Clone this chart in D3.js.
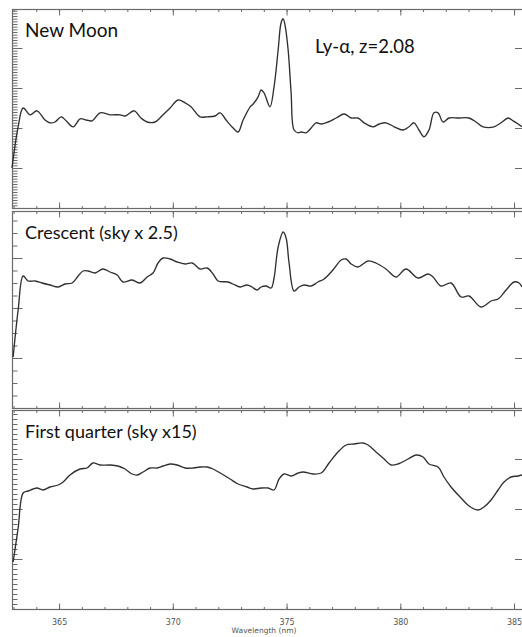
<!DOCTYPE html>
<html>
<head>
<meta charset="utf-8">
<script src="https://cdn.jsdelivr.net/npm/d3@7"></script>
<style>
  html, body { margin: 0; padding: 0; background: #fff; }
  svg { display: block; }
</style>
</head>
<body>
<script>
// ---------- data (wavelength nm, relative flux) ----------
const newMoonWl = [362.93,363.20,363.42,363.73,364.03,364.38,364.60,364.82,365.09,365.31,365.62,365.93,366.19,366.45,366.80,367.24,367.68,367.90,368.30,368.60,368.87,369.22,369.57,369.88,370.23,370.54,370.80,371.20,371.51,371.86,372.08,372.34,372.65,372.87,373.09,373.40,373.53,373.75,373.88,374.01,374.27,374.45,374.63,374.76,374.85,374.93,375.07,375.20,375.33,375.51,375.64,375.86,376.08,376.30,376.52,376.82,377.18,377.53,377.84,378.14,378.41,378.80,379.07,379.37,379.73,380.12,380.38,380.60,380.82,381.04,381.26,381.48,381.66,381.88,382.14,382.54,383.02,383.33,383.64,384.12,384.43,384.74,384.96,385.18,385.35];
const newMoonFlux = [1.0,2.03,2.5,2.33,2.43,2.2,2.13,2.15,2.28,2.18,2.03,2.23,2.2,2.18,2.38,2.33,2.33,2.3,2.43,2.25,2.15,2.15,2.33,2.5,2.7,2.63,2.53,2.28,2.28,2.3,2.38,2.2,2.0,1.9,2.2,2.53,2.6,2.78,2.95,2.88,2.53,3.03,3.95,4.63,4.73,4.58,3.95,2.88,1.95,1.88,1.9,1.88,2.0,2.13,2.1,2.15,2.25,2.35,2.25,2.25,2.13,2.03,2.1,2.13,2.03,1.95,2.03,2.13,1.95,1.78,1.95,2.38,2.38,2.15,2.25,2.25,2.25,2.15,2.03,2.03,2.13,2.25,2.18,2.1,2.03];

const crescentWl = [362.98,363.20,363.42,363.64,363.95,364.25,364.60,364.96,365.26,365.57,365.84,366.05,366.27,366.58,366.93,367.24,367.55,367.81,368.21,368.56,368.87,369.13,369.35,369.57,369.88,370.19,370.54,370.85,371.20,371.51,371.77,371.99,372.43,372.65,372.96,373.26,373.48,373.70,373.88,374.10,374.32,374.45,374.63,374.85,374.98,375.11,375.33,375.55,375.77,376.08,376.38,376.65,377.04,377.40,377.62,377.84,378.14,378.58,378.93,379.37,379.81,380.25,380.78,381.22,381.44,381.79,382.23,382.67,383.02,383.55,383.99,384.30,384.65,385.00,385.22,385.35];
const crescentFlux = [1.02,1.96,2.64,2.54,2.54,2.5,2.46,2.42,2.48,2.5,2.64,2.74,2.74,2.7,2.78,2.72,2.66,2.52,2.56,2.5,2.62,2.7,2.9,3.0,2.98,2.92,2.88,2.9,2.78,2.8,2.68,2.54,2.52,2.48,2.42,2.46,2.42,2.36,2.42,2.44,2.4,2.6,3.22,3.52,3.4,2.9,2.34,2.42,2.46,2.44,2.52,2.58,2.76,2.96,2.98,2.88,2.82,2.94,2.9,2.78,2.62,2.78,2.6,2.68,2.62,2.44,2.5,2.22,2.24,2.02,2.14,2.18,2.36,2.52,2.5,2.42];

const quarterWl = [362.98,363.20,363.42,363.64,363.86,364.03,364.30,364.60,364.96,365.18,365.48,365.92,366.23,366.49,366.80,367.24,367.59,367.90,368.21,368.43,368.69,369.00,369.31,369.57,369.88,370.19,370.54,370.89,371.20,371.51,371.77,372.16,372.52,372.87,373.26,373.53,373.88,374.19,374.45,374.67,374.89,375.20,375.51,375.73,376.16,376.52,376.87,377.26,377.62,377.97,378.36,378.58,378.93,379.29,379.59,379.90,380.34,380.69,381.00,381.26,381.66,381.92,382.23,382.67,383.02,383.42,383.68,383.99,384.30,384.56,384.87,385.18,385.35];
const quarterFlux = [0.94,1.62,2.32,2.36,2.4,2.42,2.38,2.44,2.48,2.54,2.68,2.8,2.82,2.92,2.88,2.88,2.86,2.8,2.7,2.68,2.74,2.82,2.82,2.86,2.9,2.88,2.82,2.82,2.84,2.84,2.8,2.7,2.6,2.5,2.44,2.4,2.42,2.42,2.38,2.6,2.7,2.66,2.72,2.74,2.7,2.72,2.92,3.14,3.28,3.3,3.32,3.28,3.14,3.0,2.88,2.9,3.0,3.08,3.04,2.9,2.84,2.64,2.44,2.22,2.06,1.98,2.04,2.18,2.38,2.54,2.64,2.66,2.68];

const panelTitles = ["New Moon", "Crescent (sky x 2.5)", "First quarter (sky x15)"];
const annotation = "Ly-\u03b1, z=2.08";
const xTickValues = [365, 370, 375, 380, 385];
const xLabel = "Wavelength (nm)";
const wlDomain = [362.93, 385.35];

// ---------- layout ----------
const W = 522, H = 637;
const svg = d3.select("body").append("svg").attr("width", W).attr("height", H);

const x = d3.scaleLinear().domain(wlDomain).range([12, 522]);

const panels = [
  { wl: newMoonWl, flux: newMoonFlux, top: 9, bottom: 208, ymax: 4.975, minorStep: 1/15, major: [1,2,3,4], fs: 19 },
  { wl: crescentWl, flux: crescentFlux, top: 211, bottom: 408, ymax: 3.94, minorStep: 0.25, major: [1,2,3], fs: 18 },
  { wl: quarterWl, flux: quarterFlux, top: 410, bottom: 609, ymax: 3.98, minorStep: 0.1, major: [1,2,3], fs: 18 }
];

const frameColor = "#6a6a6a";
const minorX = d3.range(363, 386, 1);

panels.forEach((p, i) => {
  const y = d3.scaleLinear().domain([0, p.ymax]).range([p.bottom, p.top]);
  const g = svg.append("g");

  // frame
  g.append("rect")
    .attr("x", x.range()[0] + 0.5).attr("y", p.top + 0.5)
    .attr("width", x.range()[1] - x.range()[0] + 2).attr("height", p.bottom - p.top)
    .attr("fill", "none").attr("stroke", frameColor).attr("stroke-width", 1.2);

  // bottom / top axes (ticks inward)
  const bottomMinor = d3.axisBottom(x).tickValues(minorX).tickSize(-2.5).tickFormat("");
  const bottomMajor = d3.axisBottom(x).tickValues(xTickValues).tickSize(-6).tickPadding(10)
    .tickFormat(i === 2 ? d3.format("d") : "");
  const topMinor = d3.axisTop(x).tickValues(minorX).tickSize(-2.5).tickFormat("");
  const topMajor = d3.axisTop(x).tickValues(xTickValues).tickSize(-6).tickFormat("");

  [[bottomMinor, p.bottom], [bottomMajor, p.bottom], [topMinor, p.top], [topMajor, p.top]].forEach(([ax, yy]) => {
    const a = g.append("g").attr("transform", `translate(0,${yy + 0.5})`).call(ax);
    a.select(".domain").remove();
    a.selectAll(".tick line").attr("stroke", frameColor).attr("stroke-width", 1);
    a.selectAll(".tick text").attr("font-family", "DejaVu Sans, sans-serif")
      .attr("font-size", 8).attr("fill", "#555");
  });

  // left axis: minor + major ticks inward; right axis: major only
  const minorY = d3.range(p.minorStep, p.ymax, p.minorStep);
  const leftMinor = d3.axisLeft(y).tickValues(minorY).tickSize(-5).tickFormat("");
  const leftMajor = d3.axisLeft(y).tickValues(p.major).tickSize(-10).tickFormat("");
  const rightMajor = d3.axisRight(y).tickValues(p.major).tickSize(-7).tickFormat("");
  [[leftMinor, 12.5], [leftMajor, 12.5], [rightMajor, 522]].forEach(([ax, xx]) => {
    const a = g.append("g").attr("transform", `translate(${xx},0)`).call(ax);
    a.select(".domain").remove();
    a.selectAll(".tick line").attr("stroke", frameColor).attr("stroke-width", 1);
  });

  // spectrum
  const data = p.wl.map((w, k) => [w, p.flux[k]]);
  const line = d3.line().x(d => x(d[0])).y(d => y(d[1])).curve(d3.curveCatmullRom.alpha(0.5));
  g.append("path").datum(data)
    .attr("d", line)
    .attr("fill", "none").attr("stroke", "#303030").attr("stroke-width", 1.35)
    .attr("stroke-linejoin", "round");

  // title
  g.append("text")
    .attr("x", 25).attr("y", p.top + 28)
    .attr("font-family", "Lato, 'Open Sans', sans-serif")
    .attr("font-size", p.fs).attr("fill", "#111")
    .text(panelTitles[i]);
});

// annotation
svg.append("text")
  .attr("x", 315).attr("y", 53)
  .attr("font-family", "Lato, 'Open Sans', sans-serif")
  .attr("font-size", 18.5).attr("fill", "#111")
  .text(annotation);

// x label
svg.append("text")
  .attr("x", 264).attr("y", 633)
  .attr("text-anchor", "middle")
  .attr("font-family", "DejaVu Sans, sans-serif")
  .attr("font-size", 7.5).attr("fill", "#555")
  .text(xLabel);
</script>
</body>
</html>
